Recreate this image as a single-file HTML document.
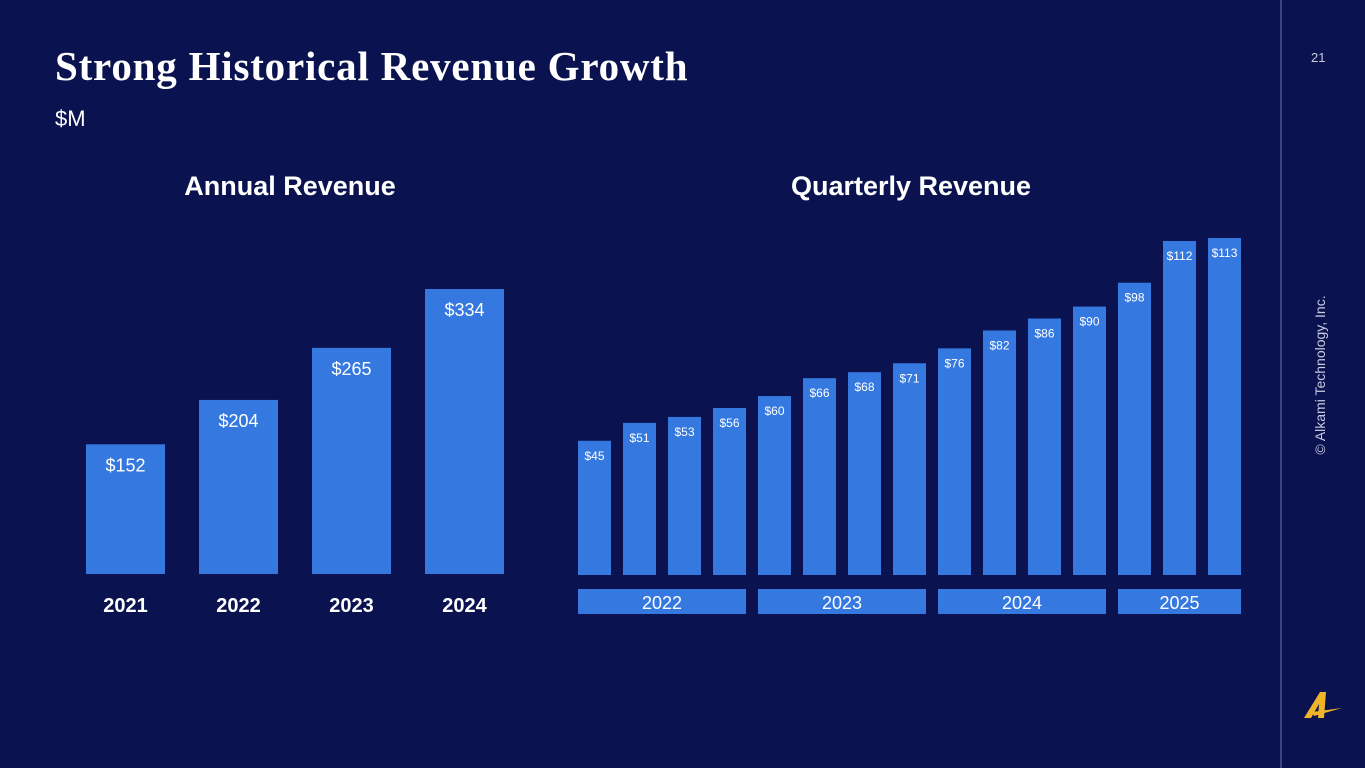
<!DOCTYPE html>
<html><head><meta charset="utf-8"><style>
body{margin:0;width:1365px;height:768px;background:#0a1350;overflow:hidden;font-family:"Liberation Sans",sans-serif;color:#fff;position:relative}
.t{position:absolute;white-space:nowrap}
</style></head><body>
<div class="t" style="left:55px;top:42px;font-family:'Liberation Serif',serif;font-weight:bold;font-size:41px;letter-spacing:0.8px">Strong Historical Revenue Growth</div>
<div class="t" style="left:55px;top:106px;font-size:22px">$M</div>
<div class="t" style="left:1311px;top:50px;font-size:13px;color:#c8cbe0">21</div>
<div style="position:absolute;left:1280px;top:0;width:2px;height:768px;background:#3a4580"></div>
<div class="t" style="left:1320px;top:375px;font-size:14px;color:#c8cbe0;transform:translate(-50%,-50%) rotate(-90deg)">© Alkami Technology, Inc.</div>
<svg style="position:absolute;left:1300px;top:688px" width="45" height="35" viewBox="0 0 45 35"><path d="M4 30 L20 4 L26 4 L24 30 L18 30 L19 16 L11 30 Z" fill="#f0b429"/><path d="M12 24 L42 20 L14 28 Z" fill="#f0b429"/></svg>
<div class="t" style="left:290px;top:171px;transform:translateX(-50%);font-weight:bold;font-size:27px">Annual Revenue</div>
<div class="t" style="left:911px;top:171px;transform:translateX(-50%);font-weight:bold;font-size:27px">Quarterly Revenue</div>
<svg id="c" width="1365" height="768" style="position:absolute;left:0;top:0"></svg>
<script>
const annualYears=["2021","2022","2023","2024"];
const annualValues=[152,204,265,334];
const quarterValues=[45,51,53,56,60,66,68,71,76,82,86,90,98,112,113];
const quarterYears=["2022","2023","2024","2025"];
const quarterYearCounts=[4,4,4,3];
const svg=document.getElementById('c');const NS='http://www.w3.org/2000/svg';
function mk(tag,a,txt){const e=document.createElementNS(NS,tag);for(const k in a)e.setAttribute(k,a[k]);if(txt!=null)e.textContent=txt;svg.appendChild(e);return e;}
const BLUE='#3478e0';
const aBase=574,aScale=285/334,aX=i=>86+i*113,aW=79;
annualValues.forEach((v,i)=>{const h=v*aScale;
const r=mk('rect',{x:aX(i),y:aBase-h,width:aW,height:h,fill:BLUE});


const l=mk('text',{x:aX(i)+aW/2,y:aBase-h+27,'text-anchor':'middle','font-size':18,fill:'#fff','font-family':'Liberation Sans'},'$'+v);


const y=mk('text',{x:aX(i)+aW/2,y:612,'text-anchor':'middle','font-size':20,'font-weight':'bold',fill:'#fff','font-family':'Liberation Sans'},annualYears[i]);

});
const qBase=575,qScale=337/113,qX=i=>578+i*45,qW=33;
quarterValues.forEach((v,i)=>{const h=v*qScale;
const r=mk('rect',{x:qX(i),y:qBase-h,width:qW,height:h,fill:BLUE});


const l=mk('text',{x:qX(i)+qW/2,y:qBase-h+19,'text-anchor':'middle','font-size':12,fill:'#fff','font-family':'Liberation Sans'},'$'+v);

});
let idx=0;
quarterYears.forEach((yr,j)=>{const n=quarterYearCounts[j];const x0=qX(idx),x1=qX(idx+n-1)+qW;idx+=n;
const r=mk('rect',{x:x0,y:589,width:x1-x0,height:25,fill:BLUE});


const t=mk('text',{x:(x0+x1)/2,y:609,'text-anchor':'middle','font-size':18,fill:'#fff','font-family':'Liberation Sans'},yr);

});
</script>
</body></html>
